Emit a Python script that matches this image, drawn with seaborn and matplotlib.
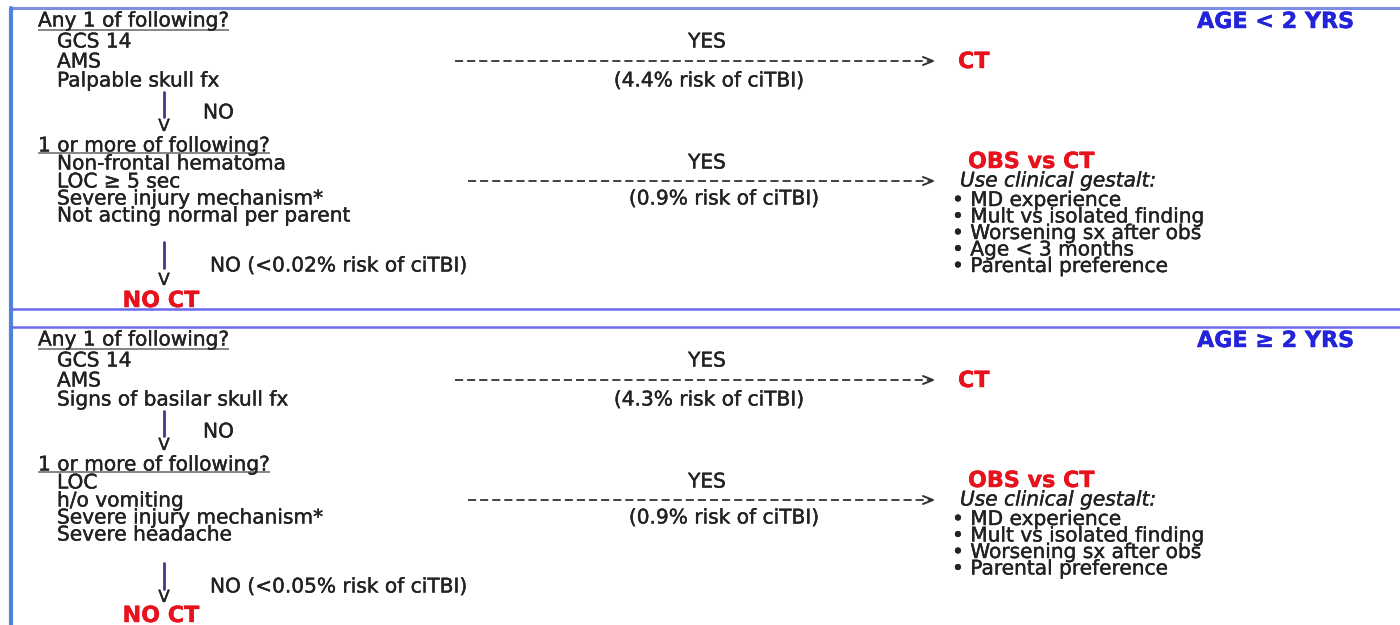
import matplotlib
matplotlib.use("Agg")
import matplotlib.pyplot as plt
import matplotlib.patheffects as pe
import seaborn as sns
import pandas as pd

# ---------------- data (text content) ----------------
age_headers = ["AGE < 2 YRS", "AGE \u2265 2 YRS"]
question_any = "Any 1 of following?"
question_more = "1 or more of following?"
high_risk_items = [["GCS 14", "AMS", "Palpable skull fx"],
                   ["GCS 14", "AMS", "Signs of basilar skull fx"]]
mid_risk_items = [["Non-frontal hematoma", "LOC \u2265 5 sec",
                   "Severe injury mechanism*", "Not acting normal per parent"],
                  ["LOC", "h/o vomiting", "Severe injury mechanism*", "Severe headache"]]
high_risk_pct = ["4.4%", "4.3%"]
mid_risk_pct = ["0.9%", "0.9%"]
low_risk_pct = ["<0.02%", "<0.05%"]
gestalt_items = [["MD experience", "Mult vs isolated finding", "Worsening sx after obs",
                  "Age < 3 months", "Parental preference"],
                 ["MD experience", "Mult vs isolated finding", "Worsening sx after obs",
                  "Parental preference"]]
outcome_high = "CT"
outcome_mid = "OBS vs CT"
outcome_low = "NO CT"
gestalt_title = "Use clinical gestalt:"

# ---------------- style ----------------
sns.set_theme(style="white")
plt.rcParams["font.family"] = ["DejaVu Sans"]
TXT = "#222222"
RED = "#E8121C"
BLUE = "#2323DA"
NAVY = "#3B3B8E"
FS = 14.5

fig = plt.figure(figsize=(14, 6.25), dpi=100)
ax = fig.add_axes([0, 0, 1, 1])
ax.set_xlim(0, 1400)
ax.set_ylim(625, 0)
ax.axis("off")
renderer = fig.canvas.get_renderer()


def txt(x, y, s, ha="left", color=TXT, weight="normal", style="normal", size=FS,
        heavy=True):
    t = ax.text(x, y, s, ha=ha, va="center_baseline", color=color,
                fontweight=weight, fontstyle=style, fontsize=size)
    if heavy:
        t.set_path_effects([pe.withStroke(linewidth=0.3, foreground=color)])
    return t


def underline(t, y):
    bb = t.get_window_extent(renderer=renderer)
    inv = ax.transData.inverted()
    (x0, _), (x1, _) = inv.transform([(bb.x0, 0), (bb.x1, 0)])
    ax.plot([x0, x1], [y, y], color="#666666", lw=1.1, solid_capstyle="butt")


def dashed_arrow(x0, x1, y):
    df = pd.DataFrame({"x": [x0, x1 - 2], "y": [y, y]})
    sns.lineplot(data=df, x="x", y="y", ax=ax, color="#333333", lw=1.3,
                 linestyle=(0, (4.5, 2.2)), sort=False)
    ax.plot([x1 - 10, x1, x1 - 10], [y - 4, y, y + 4], color="#333333", lw=1.4)


def down_arrow(x, y0, y1, yv):
    ax.plot([x, x], [y0, y1], color=NAVY, lw=2.0)
    txt(x, yv, "V", ha="center", size=FS - 2.5)


def panel(k, off, noct_y, v2_y):
    o = off
    t = txt(38, 19 + o, question_any)
    underline(t, 30 + o)
    txt(1354, 20 + o, age_headers[k], ha="right", color=BLUE, weight="bold", size=FS + 1.5)
    for i, s in enumerate(high_risk_items[k]):
        txt(57, [40, 60, 79][i] + o, s)
    txt(707, 40 + o, "YES", ha="center")
    dashed_arrow(455, 933, 61 + o)
    txt(709, 79 + o, f"({high_risk_pct[k]} risk of ciTBI)", ha="center")
    txt(958, 60 + o, outcome_high, color=RED, weight="bold", size=FS + 1.5)
    down_arrow(164, 92 + o, 117 + o, 124 + o)
    txt(203, 111 + o, "NO")

    t = txt(38, 144 + o, question_more)
    underline(t, 152.5 + o)
    for i, s in enumerate(mid_risk_items[k]):
        txt(57, [162, 180, 197, 214][i] + o, s)
    txt(707, 161 + o, "YES", ha="center")
    dashed_arrow(468, 933, 181 + o)
    txt(724, 197 + o, f"({mid_risk_pct[k]} risk of ciTBI)", ha="center")
    txt(968, 160 + o, outcome_mid, color=RED, weight="bold", size=FS + 1.5)
    txt(960, 179 + o, gestalt_title, style="italic")
    for i, s in enumerate(gestalt_items[k]):
        txt(952, 198.5 + 16.5 * i + o, "\u2022 " + s)
    dv = [0, 2][k]
    down_arrow(164, 242 + o + dv, 268 + o + dv, v2_y)
    txt(210, 264 + o + dv, f"NO ({low_risk_pct[k]} risk of ciTBI)")
    txt(161, noct_y, outcome_low, ha="center", color=RED, weight="bold", size=FS + 1.5)


panel(0, 0, 299, 278)
panel(1, 319, 614, 595)

# frame lines
ax.plot([11, 1400], [8, 8], color="#7D8FE2", lw=2.2)
ax.plot([11, 11], [8, 625], color="#4F84DA", lw=3.0)
ax.plot([11, 1400], [309, 309], color="#6A6AEA", lw=1.8)
ax.plot([11, 1400], [327, 327], color="#6A6AEA", lw=1.8)

fig.savefig("out.png", dpi=100, facecolor="white")
